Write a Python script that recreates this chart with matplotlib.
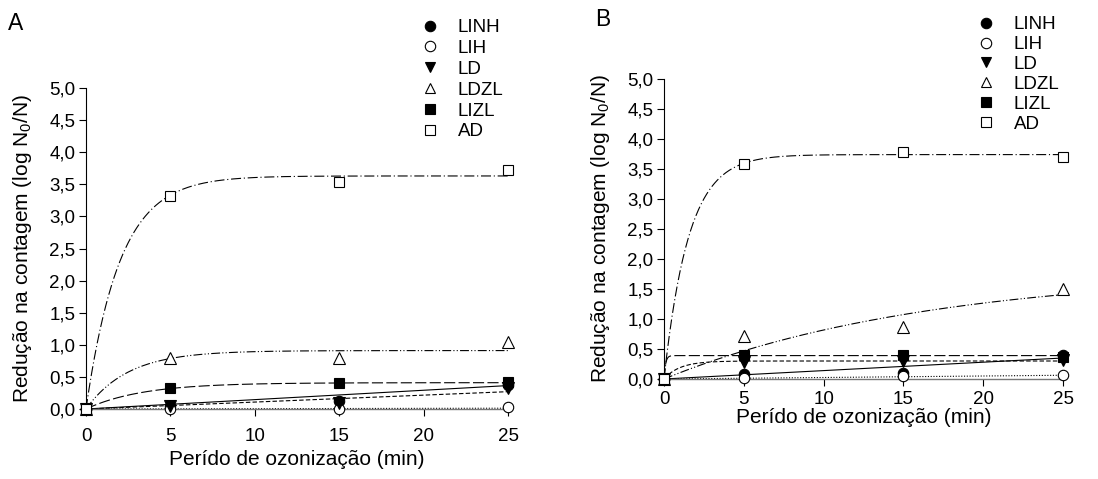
import numpy as np
import matplotlib
matplotlib.use("Agg")
import matplotlib.pyplot as plt
import matplotlib.transforms as mtransforms
from matplotlib.lines import Line2D

plt.rcParams['font.family'] = ['Liberation Sans', 'DejaVu Sans']
plt.rcParams['mathtext.fontset'] = 'custom'
plt.rcParams['mathtext.rm'] = 'Liberation Sans'
plt.rcParams['mathtext.it'] = 'Liberation Sans'

# ---- data ----
times = [0, 5, 15, 25]
series = ["LINH", "LIH", "LD", "LDZL", "LIZL", "AD"]

A_LINH = [0, 0.05, 0.12, 0.38]
A_LIH = [0, 0.0, 0.0, 0.03]
A_LD = [0, 0.05, 0.09, 0.32]
A_LDZL = [0, 0.80, 0.80, 1.05]
A_LIZL = [0, 0.32, 0.40, 0.42]
A_AD = [0, 3.32, 3.53, 3.73]

B_LINH = [0, 0.08, 0.10, 0.40]
B_LIH = [0, 0.02, 0.05, 0.07]
B_LD = [0, 0.28, 0.30, 0.32]
B_LDZL = [0, 0.72, 0.86, 1.50]
B_LIZL = [0, 0.40, 0.40, 0.36]
B_AD = [0, 3.58, 3.78, 3.70]

# fitted models: ('exp', plateau, rate) -> a*(1-exp(-b t)); ('lin', slope)
A_fit = {"LINH": ("lin", 0.0146), "LIH": ("lin", 0.0005), "LD": ("lin", 0.0108),
         "LDZL": ("exp", 0.91, 0.40), "LIZL": ("exp", 0.41, 0.30), "AD": ("exp", 3.63, 0.50)}
B_fit = {"LINH": ("lin", 0.0140), "LIH": ("lin", 0.0025), "LD": ("exp", 0.30, 1.0),
         "LDZL": ("exp", 1.81, 0.06), "LIZL": ("exp", 0.39, 10.0), "AD": ("exp", 3.74, 0.65)}

y_ticks = [0, 0.5, 1, 1.5, 2, 2.5, 3, 3.5, 4, 4.5, 5]
x_ticks = [0, 5, 10, 15, 20, 25]

# ---- styles ----
marker_style = {
    "LINH": dict(marker='o', mfc='black'),
    "LIH": dict(marker='o', mfc='white'),
    "LD": dict(marker='v', mfc='black'),
    "LDZL": dict(marker='^', mfc='white'),
    "LIZL": dict(marker='s', mfc='black'),
    "AD": dict(marker='s', mfc='white'),
}
line_style = {
    "LINH": '-',
    "LIH": (0, (1, 1.5)),
    "LD": (0, (4, 2)),
    "LDZL": (0, (8, 2, 1, 2, 1, 2)),
    "LIZL": (0, (10, 3)),
    "AD": (0, (9, 2.5, 1, 2.5)),
}

W, H = 1098, 479
fig = plt.figure(figsize=(W / 100, H / 100), dpi=100)

def fig_rect(l, r, t, b):
    return [l / W, 1 - b / H, (r - l) / W, (b - t) / H]

def curve(model, t):
    if model[0] == 'lin':
        return model[1] * t
    return model[1] * (1 - np.exp(-model[2] * t))

def panel(rect, data, fits, letter, letter_xy, leg_xy, legsp, xpad, xlabelpad, ylab_x):
    ax = fig.add_axes(rect)
    tt = np.linspace(0, 25, 600)
    for name in series:
        ax.plot(tt, curve(fits[name], tt), color='black', lw=0.8, ls=line_style[name], zorder=2)
    for name in series:
        st = marker_style[name]
        ax.plot(times, data[name], ls='none', marker=st['marker'], mfc=st['mfc'], mec='black',
                mew=0.8, ms=7.5 if st['marker'] in ('o', 's') else 8, clip_on=False, zorder=3)
    ax.set_xlim(0, 25)
    ax.set_ylim(0, 5)
    ax.set_xticks(x_ticks)
    ax.set_yticks(y_ticks)
    ax.set_yticklabels([f"{v:.1f}".replace('.', ',') for v in y_ticks])
    ax.tick_params(direction='out', length=5, width=0.8, labelsize=13.5)
    ax.tick_params(axis='y', pad=2.5)
    ax.tick_params(axis='x', pad=xpad)
    for s in ('top', 'right'):
        ax.spines[s].set_visible(False)
    ax.spines['left'].set_linewidth(0.8)
    ax.spines['bottom'].set_linewidth(1.0)
    ax.spines['bottom'].set_color('#777777')
    ax.set_xlabel("Perído de ozonização (min)", fontsize=15, labelpad=xlabelpad)
    ax.set_ylabel("Redução na contagem (log N$_0$/N)", fontsize=15)
    ax.yaxis.set_label_coords(ylab_x / W, 0.5,
                              transform=mtransforms.blended_transform_factory(fig.transFigure, ax.transAxes))
    fig.text(letter_xy[0] / W, 1 - letter_xy[1] / H, letter, fontsize=16.5, ha='left', va='baseline')
    handles = [Line2D([], [], ls='none', marker=marker_style[n]['marker'], mfc=marker_style[n]['mfc'],
                      mec='black', mew=0.8, ms=7.5) for n in series]
    fig.legend(handles, series, loc='upper left', bbox_to_anchor=(leg_xy[0] / W, 1 - leg_xy[1] / H),
               frameon=False, fontsize=13.5, handlelength=1.0, handletextpad=0.95,
               labelspacing=legsp, borderpad=0, borderaxespad=0)
    return ax

dataA = dict(zip(series, [A_LINH, A_LIH, A_LD, A_LDZL, A_LIZL, A_AD]))
dataB = dict(zip(series, [B_LINH, B_LIH, B_LD, B_LDZL, B_LIZL, B_AD]))

panel(fig_rect(86, 508, 88, 409), dataA, A_fit, "A", (8, 30), (421, 19), 0.2, 9, 3, 34)
panel(fig_rect(664, 1063, 79, 379), dataB, B_fit, "B", (595, 26), (977, 16), 0.15, 3.5, 0, 612)

fig.savefig("out.png", dpi=100)
